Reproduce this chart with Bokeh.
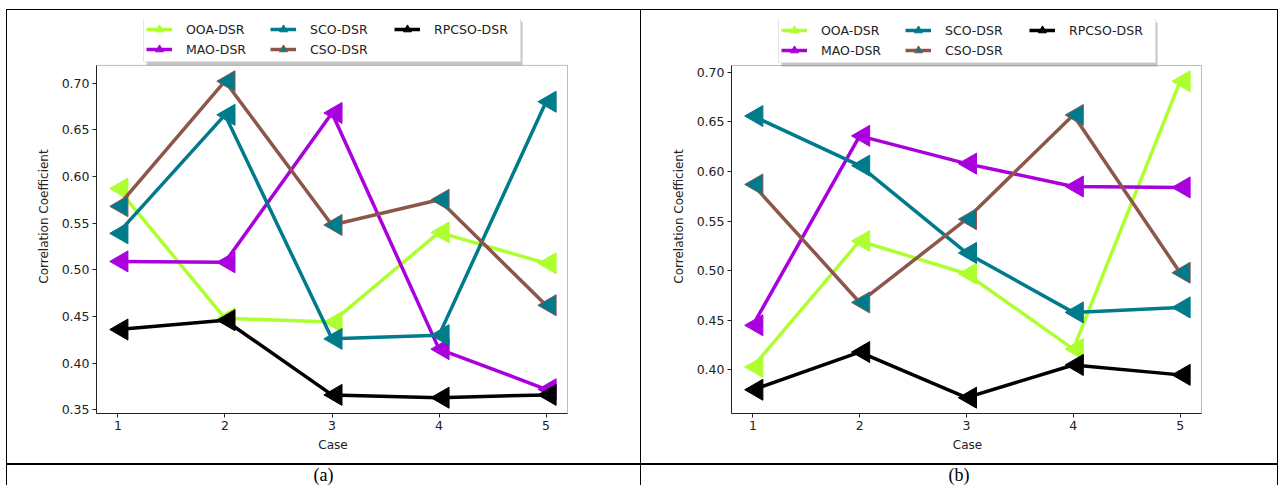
import numpy as np
from bokeh.plotting import figure
from bokeh.models import (Range1d, FixedTicker, NumeralTickFormatter, Legend,
                          LegendItem, Div, BoxAnnotation)
from bokeh.transform import dodge
from bokeh.layouts import row, column
from bokeh.embed import file_html
from bokeh.resources import INLINE

# ---------------- data ----------------
cases = [1, 2, 3, 4, 5]
series_names = ["OOA-DSR", "MAO-DSR", "SCO-DSR", "CSO-DSR", "RPCSO-DSR"]

a_ooa = [0.587, 0.448, 0.444, 0.540, 0.507]
a_mao = [0.509, 0.508, 0.668, 0.415, 0.372]
a_sco = [0.539, 0.666, 0.426, 0.430, 0.680]
a_cso = [0.568, 0.702, 0.548, 0.575, 0.462]
a_rpcso = [0.436, 0.446, 0.366, 0.363, 0.366]

b_ooa = [0.403, 0.530, 0.497, 0.421, 0.691]
b_mao = [0.445, 0.636, 0.608, 0.585, 0.584]
b_sco = [0.656, 0.606, 0.518, 0.458, 0.463]
b_cso = [0.587, 0.468, 0.552, 0.657, 0.498]
b_rpcso = [0.380, 0.418, 0.372, 0.405, 0.395]

a_yticks = [0.35, 0.40, 0.45, 0.50, 0.55, 0.60, 0.65, 0.70]
b_yticks = [0.40, 0.45, 0.50, 0.55, 0.60, 0.65, 0.70]
x_ticks = [1, 2, 3, 4, 5]
captions = ["(a)", "(b)"]
x_label = "Case"
y_label = "Correlation Coefficient"

# ---------------- style ----------------
line_colors = ["#adff2f", "#aa00dd", "#007b8c", "#8c564b", "#000000"]
face_colors = ["#adff2f", "#aa00dd", "#007b8c", "#007b8c", "#000000"]
FONT = "DejaVu Sans"
FS = "12.5px"
FS_LAB = "12px"
EDGE = "#222222"
LEG_PAD = 2
LEG_ROW = 20
LEG_GLYPH_W = 26
LEG_STANDOFF = 14
LEG_LABEL_W = 84
LEG_H = 2 * LEG_PAD + 2 * LEG_ROW
LEG_W = 2 * LEG_PAD + 3 * (LEG_GLYPH_W + LEG_STANDOFF + LEG_LABEL_W)


def panel(vals, yticks, w, h, left, data_w, data_top, data_h, canvas_top, leg_x):
    # data limits with matplotlib-like 5% margins
    lo = min(min(v) for v in vals)
    hi = max(max(v) for v in vals)
    pad = 0.05 * (hi - lo)
    y0, y1 = lo - pad, hi + pad
    x0, x1 = 0.8, 5.2
    # the frame also covers the legend strip above the data box
    frame_top = data_top - 2 - LEG_H
    fh = data_h + 2 + LEG_H
    fw = data_w + 2
    y_end = y0 + (y1 - y0) * fh / data_h
    x_end = x0 + (x1 - x0) * fw / data_w
    bt = frame_top - canvas_top
    bb = h - bt - fh
    br = w - left - fw
    p = figure(width=w, height=h, output_backend="svg", toolbar_location=None,
               x_range=Range1d(x0, x_end), y_range=Range1d(y0, y_end),
               min_border_left=left, min_border_right=br,
               min_border_top=bt, min_border_bottom=bb)
    p.grid.visible = False
    p.outline_line_color = None
    p.background_fill_color = "white"
    p.border_fill_color = "white"

    p.xaxis.ticker = FixedTicker(ticks=x_ticks)
    p.yaxis.ticker = FixedTicker(ticks=yticks)
    p.yaxis.formatter = NumeralTickFormatter(format="0.00")
    p.xaxis.bounds = (x0, x1)
    p.yaxis.bounds = (y0, y1)
    for ax in (p.xaxis[0], p.yaxis[0]):
        ax.axis_line_color = EDGE
        ax.major_tick_line_color = EDGE
        ax.major_tick_out = 4
        ax.major_tick_in = 0
        ax.minor_tick_line_color = None
        ax.major_label_text_font = FONT
        ax.major_label_text_font_size = FS
        ax.major_label_text_color = EDGE
        ax.axis_label_text_font = FONT
        ax.axis_label_text_font_size = FS_LAB
        ax.axis_label_text_font_style = "normal"
        ax.axis_label_text_color = EDGE
        ax.major_label_standoff = 3
    p.xaxis.axis_label = x_label
    p.yaxis.axis_label = y_label
    p.xaxis.axis_label_standoff = 5
    p.yaxis.axis_label_standoff = 8

    # plot box (matplotlib spines)
    p.add_layout(BoxAnnotation(left=x0, right=x1, bottom=y0, top=y1,
                               fill_alpha=0, line_color=EDGE, line_width=1,
                               level="underlay"))

    items = []
    for name, v, lc, fc in zip(series_names, vals, line_colors, face_colors):
        src = {"x": cases, "y": v}
        ln = p.line("x", "y", source=src, line_color=lc, line_width=3.5)
        sc = p.scatter(x=dodge("x", 0.037), y="y", source=src,
                       marker="triangle", size=21, angle=np.pi / 2,
                       fill_color=fc, line_color=lc, line_width=1)
        items.append(LegendItem(label=name, renderers=[ln, sc]))

    # legend drop shadow (screen units, relative to the frame's bottom-left)
    ly = data_h + 2
    p.add_layout(BoxAnnotation(left=leg_x + 3, right=leg_x + LEG_W + 3,
                               bottom=ly - 3, top=ly + LEG_H - 3,
                               left_units="screen", right_units="screen",
                               bottom_units="screen", top_units="screen",
                               fill_color="#8c8c8c", fill_alpha=0.5,
                               line_color=None))

    legend = Legend(items=items, orientation="vertical", nrows=2,
                    location=(leg_x, ly),
                    padding=LEG_PAD, spacing=0, margin=0,
                    glyph_width=LEG_GLYPH_W, glyph_height=LEG_ROW,
                    label_height=LEG_ROW, label_width=LEG_LABEL_W,
                    label_standoff=LEG_STANDOFF,
                    label_text_font=FONT, label_text_font_size=FS,
                    label_text_color=EDGE,
                    border_line_color="#cccccc", border_line_width=1,
                    background_fill_color="white", background_fill_alpha=1.0)
    p.add_layout(legend)
    return p


H = 453
CANVAS_TOP = 10
pa = panel([a_ooa, a_mao, a_sco, a_cso, a_rpcso], a_yticks,
           633, H, 89, 471, 64, 349, CANVAS_TOP, (471 - LEG_W) // 2)
pb = panel([b_ooa, b_mao, b_sco, b_cso, b_rpcso], b_yticks,
           636, H, 90, 470, 65, 348, CANVAS_TOP, (470 - LEG_W) // 2)


def vline(h):
    return Div(text="", width=1, height=h, margin=0,
               styles={"background-color": "#000000"})


def hline(w, t):
    return Div(text="", width=w, height=t, margin=0,
               styles={"background-color": "#000000"})


def cap(text, w, h):
    html = ('<div style="width:%dpx;height:%dpx;text-align:center;'
            'font-family:\'Liberation Serif\';font-size:18px;line-height:%dpx;'
            'color:#000;">%s</div>' % (w, h, h, text))
    return Div(text=html, width=w, height=h, margin=0)


CAP_H = 20
layout = column(
    hline(1272, 1),
    row(vline(H), pa, vline(H), pb, vline(H), spacing=0),
    hline(1272, 2),
    row(vline(CAP_H), cap(captions[0], 633, CAP_H), vline(CAP_H),
        cap(captions[1], 636, CAP_H), vline(CAP_H), spacing=0),
    spacing=0,
    margin=(9, 0, 0, 6),
)

open("out.html", "w").write(file_html(layout, INLINE))
